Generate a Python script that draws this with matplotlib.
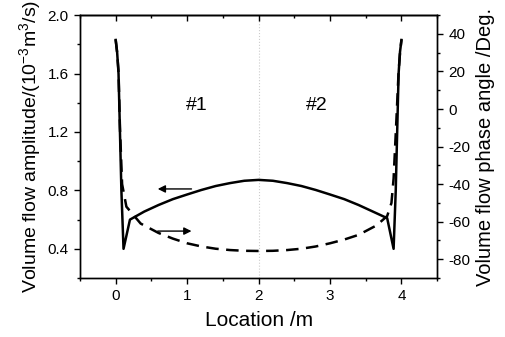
import matplotlib
matplotlib.use("Agg")
import matplotlib.pyplot as plt
from matplotlib.ticker import MultipleLocator

plt.rcParams['font.family'] = ['Liberation Sans', 'DejaVu Sans']
plt.rcParams['axes.unicode_minus'] = False
plt.rcParams['mathtext.fontset'] = 'custom'
plt.rcParams['mathtext.rm'] = 'Liberation Sans'

# amplitude (left axis)
amp_x = [0.0, 0.02, 0.04, 0.06, 0.08, 0.11, 0.2, 0.4, 0.6, 0.8, 1.0, 1.2, 1.4, 1.6, 1.8, 2.0,
         2.2, 2.4, 2.6, 2.8, 3.0, 3.2, 3.4, 3.6, 3.8,
         3.89, 3.92, 3.94, 3.96, 3.98, 4.0]
amp_y = [1.83, 1.75, 1.6, 1.2, 0.8, 0.4, 0.6, 0.655, 0.7, 0.74, 0.772, 0.803, 0.83, 0.85, 0.866, 0.872,
         0.866, 0.85, 0.83, 0.803, 0.772, 0.74, 0.7, 0.655, 0.61,
         0.4, 0.8, 1.2, 1.6, 1.75, 1.83]

# phase angle (right axis)
ph_x = [0.0, 0.02, 0.04, 0.06, 0.09, 0.15, 0.35, 0.6, 0.8, 1.0, 1.2, 1.4, 1.6, 1.8, 2.0,
        2.2, 2.4, 2.6, 2.8, 3.0, 3.2, 3.4, 3.65,
        3.8, 3.86, 3.89, 3.93, 3.96, 3.98, 4.0]
ph_y = [37, 30, 20, -10, -40, -52, -61, -66, -69, -71.5, -73.2, -74.4, -75.1, -75.5, -75.6,
        -75.5, -75.1, -74.4, -73.2, -71.5, -69.5, -67, -62,
        -57, -50, -37, -5, 20, 30, 37]

fig, ax = plt.subplots(figsize=(5.06, 3.37), dpi=100)
fig.subplots_adjust(left=0.158, right=0.864, top=0.955, bottom=0.175)
ax2 = ax.twinx()

ax.axvline(2, color='#cccccc', lw=0.8, ls=':', zorder=0)
ax.plot(amp_x, amp_y, color='black', lw=1.8)
ax2.plot(ph_x, ph_y, color='black', lw=1.8, ls=(0, (5, 3)))

ax.set_xlim(-0.5, 4.5)
ax.set_ylim(0.2, 2.0)
ax2.set_ylim(-90, 50)

ax.xaxis.set_major_locator(MultipleLocator(1))
ax.xaxis.set_minor_locator(MultipleLocator(0.5))
ax.yaxis.set_major_locator(MultipleLocator(0.4))
ax.yaxis.set_minor_locator(MultipleLocator(0.2))
ax2.yaxis.set_major_locator(MultipleLocator(20))
ax2.yaxis.set_minor_locator(MultipleLocator(10))
ax.set_yticks([0.4, 0.8, 1.2, 1.6, 2.0])
ax.set_yticklabels(['0.4', '0.8', '1.2', '1.6', '2.0'])

ax.tick_params(which='both', direction='out', labelsize=11, width=1)
ax.tick_params(which='major', length=4.5)
ax.tick_params(which='minor', length=2.5)
ax2.tick_params(which='both', direction='out', labelsize=11, width=1)
ax2.tick_params(which='major', length=4.5)
ax2.tick_params(which='minor', length=2.5)

# top axis: inward ticks, no labels
top = ax.secondary_xaxis('top')
top.xaxis.set_major_locator(MultipleLocator(1))
top.xaxis.set_minor_locator(MultipleLocator(0.5))
top.tick_params(which='both', direction='in', labeltop=False, width=1)
top.tick_params(which='major', length=4.5)
top.tick_params(which='minor', length=2.5)

for a in (ax, ax2):
    for s in a.spines.values():
        s.set_linewidth(1)
top.spines['top'].set_linewidth(1)

ax.set_xlabel('Location /m', fontsize=15, labelpad=6)
ax.set_ylabel(r'Volume flow amplitude/(10$^{\mathregular{-3}}$m$^{\mathregular{3}}$/s)', fontsize=14, labelpad=3)
ax2.set_ylabel('Volume flow phase angle /Deg.', fontsize=14.5, labelpad=4)

ax.text(1.13, 1.38, '#1', fontsize=14, ha='center', va='center')
ax.text(2.82, 1.38, '#2', fontsize=14, ha='center', va='center')

ax.annotate('', xy=(0.55, 0.81), xytext=(1.1, 0.81),
            arrowprops=dict(arrowstyle='-|>', color='black', lw=1, mutation_scale=11))
ax2.annotate('', xy=(1.1, -65), xytext=(0.55, -65),
             arrowprops=dict(arrowstyle='-|>', color='black', lw=1, mutation_scale=11))

fig.savefig('out.png', dpi=100)
